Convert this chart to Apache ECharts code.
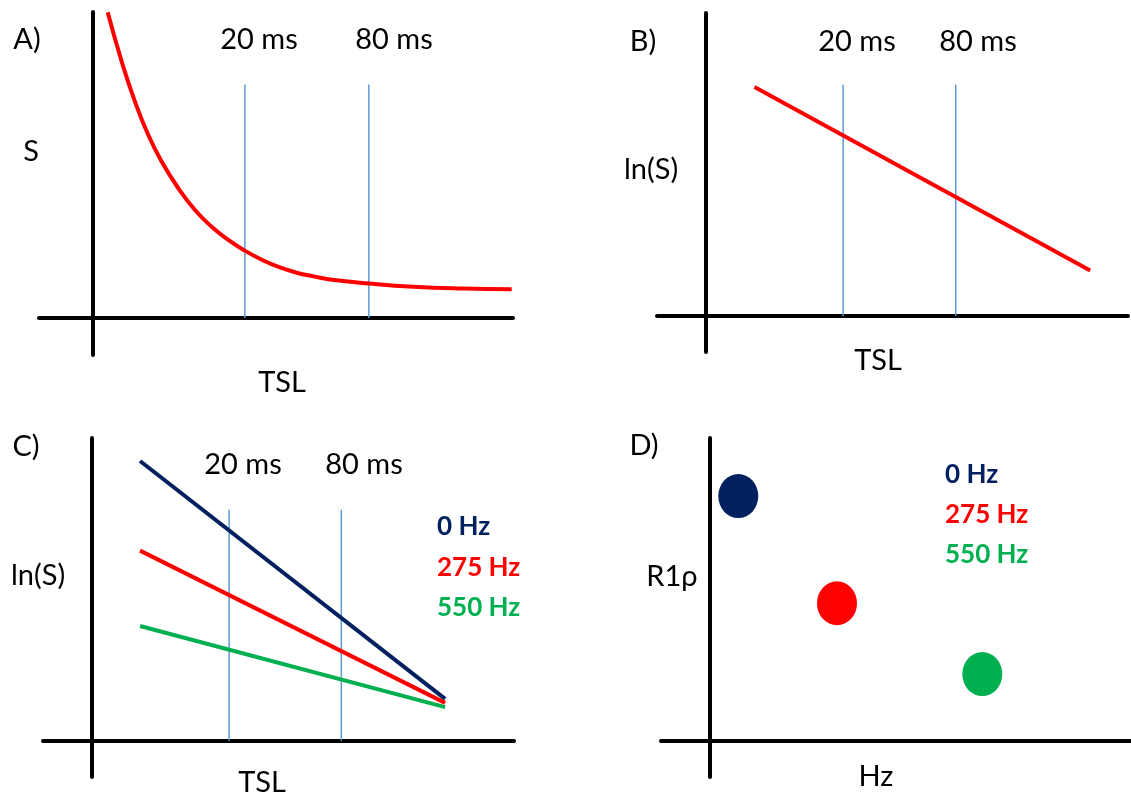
<!DOCTYPE html>
<html>
<head>
<meta charset="utf-8">
<script src="https://cdn.jsdelivr.net/npm/echarts@6/dist/echarts.min.js"></script>
<style>
html,body{margin:0;padding:0;background:#fff;}
#chart{width:1131px;height:795px;}
</style>
</head>
<body>
<div id="chart"></div>
<script>
// ---- Data (schematic units) ----
const panelLetters = ['A)', 'B)', 'C)', 'D)'];
const yTitles = ['S', 'ln(S)', 'ln(S)', 'R1\u03C1'];
const xTitles = ['TSL', 'TSL', 'TSL', 'Hz'];
const timeLabels = ['20 ms', '80 ms'];
const freqLabels = ['0 Hz', '275 Hz', '550 Hz'];

// Panel A: signal decay curve S vs TSL
const curveA = [[3.55,99.9],[6.88,83.8],[10.04,70.7],[13.21,59.8],[16.40,51.1],[20.35,42.4],
  [24.32,35.3],[28.30,29.8],[32.25,25.5],[36.05,22.1],[40.58,18.8],[44.55,16.5],[48.52,14.8],
  [52.5,13.6],[56.45,12.6],[65.56,11.3],[76.27,10.2],[88.17,9.6],[99.69,9.4]];
const tslMarksA = [36.2, 65.7];

// Panel B: ln(S) vs TSL
const lineB = [[11.6,75.6],[91.5,15.0]];
const tslMarksB = [32.7, 59.5];

// Panel C: ln(S) vs TSL for three spin-lock frequencies
const lineC0 = [[11.4,92.4],[84.0,13.8]];
const lineC275 = [[11.4,62.8],[84.0,12.5]];
const lineC550 = [[11.4,37.9],[84.0,11.1]];
const tslMarksC = [32.6, 59.3];

// Panel D: R1rho vs frequency
const dotsD = [[6.9,80.8],[30.4,45.4],[65.0,22.0]];

const markTop = 76.3;

// ---- Styles ----
const NAVY = '#002060', RED = '#ff0000', GREEN = '#00b050', BLUE = '#5b9bd5';
const FONT = 'Lato, "Open Sans", sans-serif';
const freqColors = [NAVY, RED, GREEN];

const grids = [
  {left:39, top:12, width:474, height:343},
  {left:657, top:13, width:471, height:339},
  {left:43, top:438, width:471, height:339},
  {left:661, top:438, width:470, height:339}
];
const xRanges = [[-12.8,100],[-11.6,100.5],[-11.7,100.4],[-11.5,100.4]];
const yRanges = [[-12.1,100],[-11.9,100],[-12,100],[-12,100]];

function axis(i, r) {
  return {
    type:'value', gridIndex:i, min:r[0], max:r[1],
    axisLine:{show:true, onZero:true, lineStyle:{color:'#000', width:4}},
    axisTick:{show:false}, axisLabel:{show:false}, splitLine:{show:false}
  };
}

function vlines(idx, xs) {
  return xs.map(x => ({
    type:'line', xAxisIndex:idx, yAxisIndex:idx, data:[[x,0],[x,markTop]],
    showSymbol:false, silent:true, z:1,
    lineStyle:{color:BLUE, width:1.5}
  }));
}
function seg(idx, data, color) {
  return {type:'line', xAxisIndex:idx, yAxisIndex:idx, data:data, showSymbol:false,
    silent:true, z:3, lineStyle:{color:color, width:4, cap:'butt'}};
}

const series = [].concat(
  vlines(0, tslMarksA), vlines(1, tslMarksB), vlines(2, tslMarksC),
  [{type:'line', xAxisIndex:0, yAxisIndex:0, data:curveA, smooth:true,
    showSymbol:false, silent:true, z:3, lineStyle:{color:RED, width:4}}],
  [seg(1, lineB, RED)],
  [seg(2, lineC0, NAVY), seg(2, lineC275, RED), seg(2, lineC550, GREEN)],
  [{type:'scatter', xAxisIndex:3, yAxisIndex:3,
    symbol:'path://M0,1A1,1,0,1,1,2,1A1,1,0,1,1,0,1Z', symbolSize:[40,44],
    data: dotsD.map((d,k)=>({value:d, itemStyle:{color:freqColors[k], opacity:1}})),
    itemStyle:{opacity:1}, z:3}]
);

function txt(s, x, y, opts) {
  opts = opts || {};
  const align = opts.align || 'center';
  return {type:'text', x:x, y:y, silent:true, z:100,
    style:{text:s, fill:opts.color||'#000', font:(opts.bold?'bold ':'')+(opts.size||29)+'px '+FONT,
      align:align, textAlign:align, verticalAlign:'middle', textVerticalAlign:'middle'}};
}

const letterPos = [[27,40],[643,42],[26,447],[644,446]];
const yTitlePos = [[31,152],[651,170],[38,576],[672,577]];
const xTitlePos = [[282,383],[878,361],[262,783],[876,777]];
const timePos = [[[259,40],[394,40]],[[857,42],[978,42]],[[243,465],[364,465]]];
const legendPos = [[[437,527],[437,568],[437,608]],[[945,475],[945,515],[945,555]]];

const graphics = [];
for (let i=0;i<4;i++){
  graphics.push(txt(panelLetters[i], letterPos[i][0], letterPos[i][1]));
  graphics.push(txt(yTitles[i], yTitlePos[i][0], yTitlePos[i][1]));
  graphics.push(txt(xTitles[i], xTitlePos[i][0], xTitlePos[i][1]));
}
timePos.forEach(p => { p.forEach((q,k) => graphics.push(txt(timeLabels[k], q[0], q[1]))); });
legendPos.forEach(p => { p.forEach((q,k) => graphics.push(
  txt(freqLabels[k], q[0], q[1], {align:'left', bold:true, size:26, color:freqColors[k]}))); });

const chart = echarts.init(document.getElementById('chart'), null, {renderer:'canvas'});
chart.setOption({
  animation:false,
  backgroundColor:'#fff',
  grid: grids,
  xAxis: xRanges.map((r,i)=>axis(i,r)),
  yAxis: yRanges.map((r,i)=>axis(i,r)),
  series: series,
  graphic: graphics
});
</script>
</body>
</html>
